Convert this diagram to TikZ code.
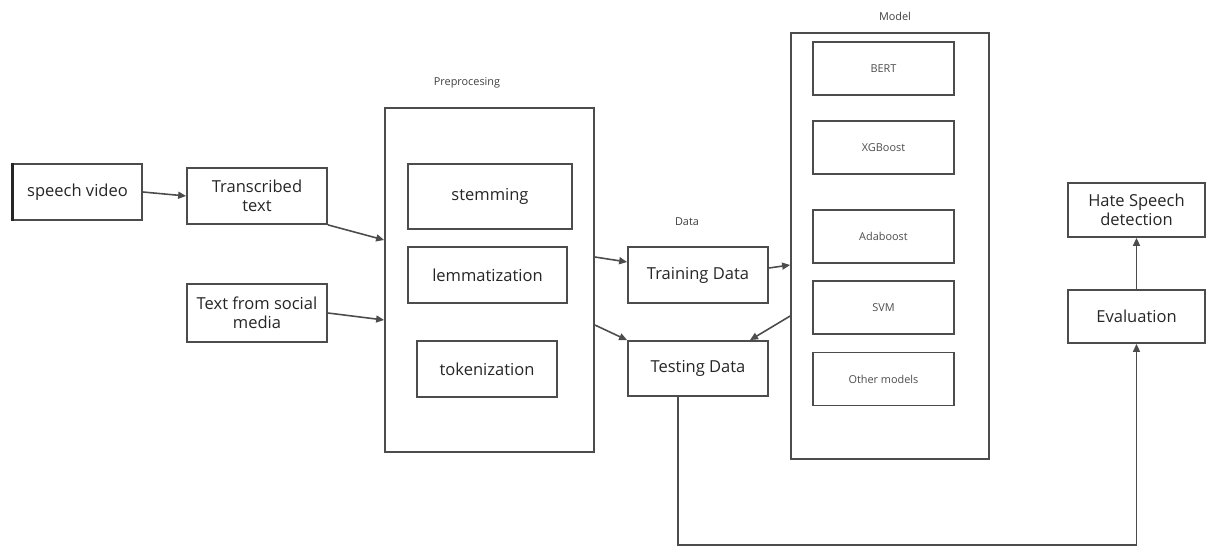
\documentclass[tikz,border=0pt]{standalone}
\usepackage{fontspec}
\setmainfont{Open Sans}
\usetikzlibrary{arrows.meta, positioning, calc}

\tikzset{
  box/.style={draw=black!70, line width=1pt, minimum width=2.8cm,
              minimum height=1.12cm, align=center, inner sep=1pt,
              font=\fontsize{9.4}{11}\selectfont, text=black!85},
  outerbox/.style={draw=black!70, line width=1pt, inner sep=0pt},
  modelbox/.style={draw=black!70, line width=1pt, minimum width=2.82cm,
                   minimum height=1.06cm, font=\fontsize{6.2}{7.5}\selectfont,
                   text=black!70},
  lbl/.style={font=\fontsize{6.2}{7.5}\selectfont, text=black!75},
  arr/.style={-{Triangle[length=1.6mm, width=1.4mm]}, draw=black!70,
              line width=0.9pt}
}

\begin{document}
\begin{tikzpicture}
  \useasboundingbox (0,0) rectangle (24.12,-10.94);

  % inputs
  \node[box, minimum width=2.58cm] (video) at (1.55,-3.84) {speech video};
  \draw[black!85, line width=1.8pt] (video.north west) -- (video.south west);
  \node[box] (trans) at (5.14,-3.92) {Transcribed\\text};
  \node[box, minimum height=1.16cm] (social) at (5.14,-6.26) {Text from social\\media};

  % preprocessing
  \node[outerbox, minimum width=4.18cm, minimum height=6.88cm] (prep) at (9.79,-5.60) {};
  \node[lbl] (preplbl) at (9.34,-1.66) {Preprocesing};
  \node[box, minimum width=3.28cm, minimum height=1.30cm] (stem) at (9.80,-3.93) {stemming};
  \node[box, minimum width=3.18cm] (lemma) at (9.75,-5.50) {lemmatization};
  \node[box] (token) at (9.74,-7.38) {tokenization};

  % data
  \node[lbl] (datalbl) at (13.74,-4.44) {Data};
  \node[box] (train) at (13.96,-5.50) {Training Data};
  \node[box, minimum height=1.10cm] (test) at (13.96,-7.37) {Testing Data};

  % models
  \node[outerbox, minimum width=3.96cm, minimum height=8.52cm] (model) at (17.80,-4.92) {};
  \node[lbl] (modellbl) at (17.90,-0.32) {Model};
  \node[modelbox] (bert) at (17.67,-1.37) {BERT};
  \node[modelbox] (xgb) at (17.67,-2.95) {XGBoost};
  \node[modelbox] (ada) at (17.67,-4.73) {Adaboost};
  \node[modelbox] (svm) at (17.67,-6.15) {SVM};
  \node[modelbox] (other) at (17.67,-7.58) {Other models};

  % output
  \node[box, minimum width=2.74cm, minimum height=1.08cm] (hate) at (22.73,-4.20) {Hate Speech\\detection};
  \node[box, minimum width=2.74cm, minimum height=1.06cm] (eval) at (22.73,-6.33) {Evaluation};

  \coordinate (low) at (0,-10.90);

  \draw[arr] (video.east) -- (trans.west);
  \draw[arr] (trans.south east) -- ([yshift=0.8cm]prep.west);
  \draw[arr] (social.east) -- ([yshift=-0.8cm]prep.west);
  \draw[arr] ([yshift=0.46cm]prep.east) -- ([yshift=0.26cm]train.west);
  \draw[arr] ([yshift=-0.9cm]prep.east) -- (test.north west);
  \draw[arr] ([yshift=0.14cm]train.east) -- ([yshift=-0.38cm]model.west);
  \draw[arr] ([yshift=-1.4cm]model.west) -- ([xshift=1.04cm]test.north);
  \draw[arr] ([xshift=-0.4cm]test.south) |- (low -| eval.south) -- (eval.south);
  \draw[arr] (eval.north) -- (hate.south);
\end{tikzpicture}
\end{document}
